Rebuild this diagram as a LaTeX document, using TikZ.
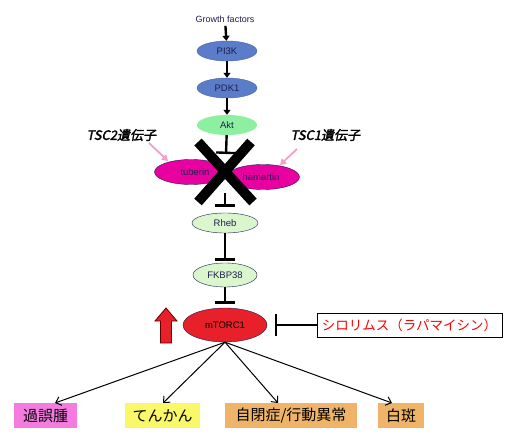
\documentclass[tikz,border=0pt]{standalone}
\usepackage{fontspec}
\setmainfont{Liberation Sans}
\newfontfamily\jp{Noto Sans CJK JP}
\newfontfamily\jpit[FakeSlant=0.2,FakeBold=2]{Noto Sans CJK JP}
\usetikzlibrary{shapes.geometric,arrows.meta,calc}
\definecolor{cblue}{RGB}{91,124,200}
\definecolor{cgreen}{RGB}{140,240,160}
\definecolor{clgreen}{RGB}{218,246,204}
\definecolor{cmag}{RGB}{232,0,160}
\definecolor{cred}{RGB}{232,32,42}
\definecolor{cpink}{RGB}{244,124,224}
\definecolor{cyel}{RGB}{248,248,104}
\definecolor{corg}{RGB}{240,180,104}
\definecolor{cnavy}{RGB}{30,30,80}
\definecolor{carrpink}{RGB}{240,160,205}
\tikzset{
  ell/.style={ellipse, inner sep=0pt, font=\fontsize{9.5}{11}\selectfont, text=cnavy},
  fwd/.style={line width=2.4pt, -{Triangle[length=5pt,width=7pt]}},
  tbar/.style={line width=2.4pt, -{Bar[width=20pt]}},
  pinkarr/.style={carrpink, line width=1.8pt, -{Triangle[length=6pt,width=7pt]}},
  disarr/.style={line width=1pt, -{Straight Barb[length=5pt,width=9pt]}},
  disbox/.style={inner sep=0pt, minimum height=25pt, font=\jp\fontsize{15}{18}\selectfont},
  tsclab/.style={font=\jpit\fontsize{13}{15}\selectfont}
}
\begin{document}
\begin{tikzpicture}[x=1pt,y=-1pt]
\useasboundingbox (0,0) rectangle (508,438);
\fill[white] (0,0) rectangle (508,438);

\node[font=\fontsize{9}{10}\selectfont, text=cnavy] (gf) at (225,19) {Growth factors};
\node[ell, fill=cblue, draw=cblue!80!black, minimum width=60pt, minimum height=20pt] (pi3k) at (227,51) {PI3K};
\node[ell, fill=cblue, draw=cblue!80!black, minimum width=60pt, minimum height=20pt] (pdk1) at (227,88) {PDK1};
\node[ell, fill=cgreen, minimum width=60pt, minimum height=20pt] (akt) at (227,125) {Akt};

\draw[fwd] (gf) -- (pi3k);
\draw[fwd] (pi3k) -- (pdk1);
\draw[fwd] (pdk1) -- (akt);

\node[ell, fill=cmag, draw=cnavy, minimum width=73pt, minimum height=25pt] (tub) at (191,172) {};
\node[ell, fill=cmag, draw=cnavy, minimum width=73pt, minimum height=25pt] (ham) at (263,177) {};
\node[font=\fontsize{9.5}{11}\selectfont, text=cnavy] (tubl) at (195,172) {tuberin};
\node[font=\fontsize{9.5}{11}\selectfont, text=cnavy] (haml) at (261,177) {hamartin};

\coordinate (xa) at (198,142);
\coordinate (xb) at (253,202);
\coordinate (xc) at (251,142);
\coordinate (xd) at (198,202);
\draw[line width=10pt] (xa) -- (xb);
\draw[line width=10pt] (xc) -- (xd);

\coordinate (akttee) at (226,154);
\draw[tbar] (akt) -- (akttee);

\node[ell, fill=clgreen, draw=cnavy, minimum width=66pt, minimum height=20pt] (rheb) at (225,223) {Rheb};
\node[ell, fill=clgreen, draw=cnavy, minimum width=64pt, minimum height=24pt] (fkbp) at (225,275) {FKBP38};
\node[ell, fill=cred, draw=cnavy, minimum width=84pt, minimum height=34pt, text=black] (mt) at (225,325) {mTORC1};

\coordinate (xbot) at (225,193);
\draw[tbar] (xbot) -- ($(rheb.north)+(0,-6)$);
\draw[tbar] (rheb) -- ($(fkbp.north)+(0,-2)$);
\draw[tbar] (fkbp) -- ($(mt.north)+(0,-4)$);

\node[tsclab, anchor=west] (tsc2) at (83,135) {TSC2遺伝子};
\node[tsclab, anchor=west] (tsc1) at (287,135) {TSC1遺伝子};
\coordinate (p2s) at (149,143);
\coordinate (p2e) at (168,161);
\coordinate (p1s) at (297,149);
\coordinate (p1e) at (280,165);
\draw[pinkarr] (p2s) -- (p2e);
\draw[pinkarr] (p1s) -- (p1e);

% red block arrow
\filldraw[fill=cred, draw=black!60!red, line width=0.8pt, line join=miter]
  (166,308) -- (177,321) -- (171.5,321) -- (171.5,343) -- (160.5,343) -- (160.5,321) -- (155,321) -- cycle;

\node[draw=black, line width=0.8pt, minimum width=185pt, minimum height=24pt, inner sep=0pt,
      text=red, font=\jp\fontsize{13.5}{15}\selectfont] (siro) at (409.5,325) {シロリムス（ラパマイシン）};
\coordinate (sirotee) at (275,325);
\draw[line width=2.4pt, -{Bar[width=22pt]}] (siro) -- (sirotee);

\node[disbox, fill=cpink, minimum width=63pt] (b1) at (45.5,415.5) {過誤腫};
\node[disbox, fill=cyel, minimum width=75pt] (b2) at (162.5,415.5) {てんかん};
\node[disbox, fill=corg, minimum width=132pt] (b3) at (291,415.5) {自閉症/行動異常};
\node[disbox, fill=corg, minimum width=46pt] (b4) at (401,415.5) {白斑};

\coordinate (e1) at (55,403);
\coordinate (e2) at (163,403);
\coordinate (e3) at (278,403);
\coordinate (e4) at (392,403);
\draw[disarr] (mt.south) -- (e1);
\draw[disarr] (mt.south) -- (e2);
\draw[disarr] (mt.south) -- (e3);
\draw[disarr] (mt.south) -- (e4);
\end{tikzpicture}
\end{document}
